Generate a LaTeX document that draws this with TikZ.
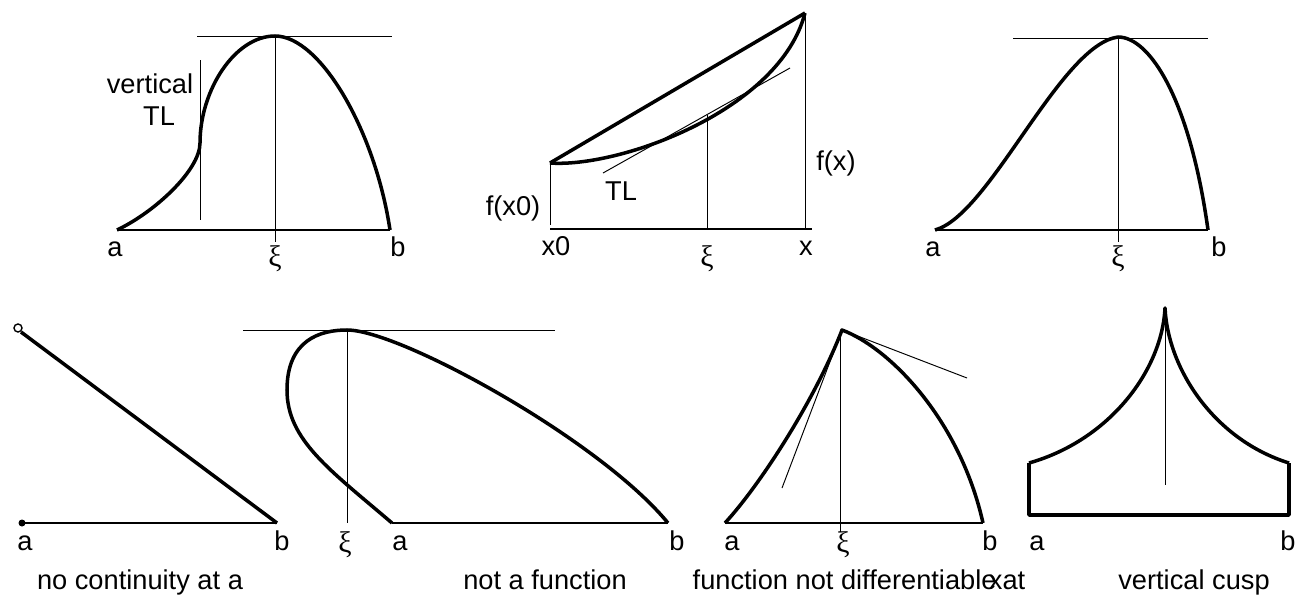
\documentclass[tikz,border=0pt]{standalone}
\usepackage{fontspec}
\setmainfont{Liberation Sans}
\newfontfamily\xifont{Liberation Serif}
\tikzset{
  curve/.style={line width=2pt, line join=round},
  axis/.style={line width=0.9pt},
  guide/.style={line width=0.55pt},
  lbl/.style={inner sep=0pt, anchor=base, font=\fontsize{15.5}{18}\selectfont},
  xilbl/.style={inner sep=0pt, anchor=north, font=\fontsize{17}{18}\selectfont\xifont},
}
\begin{document}
\begin{tikzpicture}[x=0.02cm, y=-0.02cm]
    \useasboundingbox (0,0) rectangle (1297,595);

    \coordinate (a1) at (117,230);
    \coordinate (v1) at (200,143);
    \coordinate (p1) at (275,36);
    \coordinate (b1) at (390,230);
    \draw[axis] (a1) -- (b1);
    \draw[guide] (197,36) -- (392,36);
    \draw[guide] (200,60) -- (200,220);
    \draw[guide] (p1) -- (275,242);
    \draw[curve] (a1) .. controls (155,212) and (200,170) .. (v1)
        .. controls (200,90) and (235,36) .. (p1)
        .. controls (320,36) and (375,130) .. (b1);
    \node[lbl] (vert1) at (150,93) {vertical};
    \node[lbl] (tl1) at (159,125) {TL};
    \node[lbl] (la1) at (115,256) {a};
    \node[xilbl] (xi1) at (275,245) {ξ};
    \node[lbl] (lb1) at (398,256) {b};

    \coordinate (x0) at (550,163);
    \coordinate (fx) at (805,13);
    \coordinate (m2) at (707,115);
    \draw[axis] (550,229) -- (812,229);
    \draw[guide] (x0) -- (550,225);
    \draw[guide] (fx) -- (805,229);
    \draw[guide] (m2) -- (707,229);
    \draw[guide] (603,173) -- (790,68);
    \draw[curve] (x0) -- (fx);
    \draw[curve] (x0) .. controls (620,168) and (780,110) .. (fx);
    \node[lbl] (fx0) at (513,215) {f(x0)};
    \node[lbl] (tl2) at (621,200) {TL};
    \node[lbl] (ffx) at (836,170) {f(x)};
    \node[lbl] (lx0) at (556,255) {x0};
    \node[xilbl] (xi2) at (707,245) {ξ};
    \node[lbl] (lx) at (806,255) {x};

    \coordinate (a3) at (935,230);
    \coordinate (p3) at (1118,37);
    \coordinate (b3) at (1208,230);
    \draw[axis] (a3) -- (b3);
    \draw[guide] (1013,38) -- (1208,38);
    \draw[guide] (p3) -- (1118,242);
    \draw[curve] (a3) .. controls (990,215) and (1060,45) .. (p3)
        .. controls (1150,37) and (1190,100) .. (b3);
    \node[lbl] (la3) at (933,256) {a};
    \node[xilbl] (xi3) at (1118,245) {ξ};
    \node[lbl] (lb3) at (1219,256) {b};

    \coordinate (a4) at (22,523);
    \coordinate (b4) at (277,523);
    \draw[axis] (a4) -- (b4);
    \draw[curve] (21,332) -- (b4);
    \draw[line width=0.8pt, fill=white] (18,328) circle (4);
    \fill (a4) circle (3.5);
    \node[lbl] (la4) at (25,550) {a};
    \node[lbl] (lb4) at (282,550) {b};
    \node[lbl] (txt4) at (140,589) {no continuity at a};

    \coordinate (a5) at (392,523);
    \coordinate (p5) at (347,330);
    \coordinate (b5) at (668,523);
    \draw[axis] (a5) -- (b5);
    \draw[guide] (243,330) -- (555,330);
    \draw[guide] (p5) -- (347,523);
    \draw[curve] (a5) .. controls (330,470) and (287,440) .. (287,390)
        .. controls (287,340) and (320,330) .. (p5)
        .. controls (400,330) and (600,440) .. (b5);
    \node[xilbl] (xi5) at (345,531) {ξ};
    \node[lbl] (la5) at (400,550) {a};
    \node[lbl] (lb5) at (677,550) {b};
    \node[lbl] (txt5) at (545,589) {not a function};

    \coordinate (a6) at (725,523);
    \coordinate (p6) at (842,330);
    \coordinate (b6) at (983,523);
    \draw[axis] (a6) -- (b6);
    \draw[guide] (840,330) -- (840,532);
    \draw[guide] (782,488) -- (p6) -- (967,378);
    \draw[curve] (a6) .. controls (760,485) and (815,400) .. (p6)
        .. controls (890,348) and (960,420) .. (b6);
    \node[lbl] (la6) at (732,550) {a};
    \node[xilbl] (xi6) at (843,531) {ξ};
    \node[lbl] (lb6) at (990,550) {b};
    \node[lbl] (txt6) at (859,589) {function not differentiabl\makebox[0.28em][l]{e}xat};

    \coordinate (a7) at (1029,463);
    \coordinate (p7) at (1165,308);
    \coordinate (b7) at (1289,463);
    \draw[guide] (p7) -- (1165,485);
    \draw[curve] (a7) -- (1029,515) -- (1289,515) -- (b7);
    \draw[curve] (a7) .. controls (1110,440) and (1162,370) .. (p7)
        .. controls (1168,370) and (1215,440) .. (b7);
    \node[lbl] (la7) at (1037,550) {a};
    \node[lbl] (lb7) at (1288,550) {b};
    \node[lbl] (txt7) at (1194,589) {vertical cusp};
\end{tikzpicture}
\end{document}
